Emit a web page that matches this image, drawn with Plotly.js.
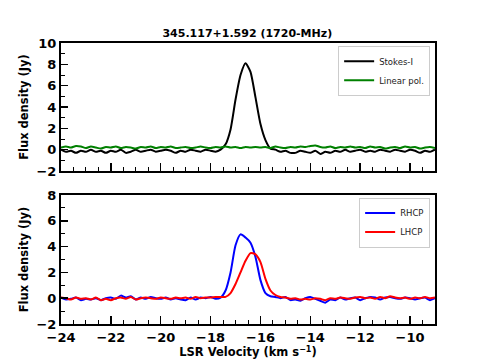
<!DOCTYPE html>
<html>
<head>
<meta charset="utf-8">
<script src="https://cdn.plot.ly/plotly-3.0.1.min.js"></script>
<style>
  html, body { margin: 0; padding: 0; background: #fff; }
  #chart { width: 484px; height: 363px; }
</style>
</head>
<body>
<div id="chart"></div>
<script>
// velocity channels (km/s)
const velocity = [
  -24.0, -23.8, -23.6, -23.4, -23.2, -23.0, -22.8, -22.6, -22.4, -22.2,
  -22.0, -21.8, -21.6, -21.4, -21.2, -21.0, -20.8, -20.6, -20.4, -20.2,
  -20.0, -19.8, -19.6, -19.4, -19.2, -19.0, -18.8, -18.6, -18.4, -18.2,
  -18.0, -17.8, -17.6, -17.4, -17.2, -17.0, -16.8, -16.6, -16.4, -16.2,
  -16.0, -15.8, -15.6, -15.4, -15.2, -15.0, -14.8, -14.6, -14.4, -14.2,
  -14.0, -13.8, -13.6, -13.4, -13.2, -13.0, -12.8, -12.6, -12.4, -12.2,
  -12.0, -11.8, -11.6, -11.4, -11.2, -11.0, -10.8, -10.6, -10.4, -10.2,
  -10.0, -9.8, -9.6, -9.4, -9.2, -9.0
];

const stokesI = [
  0.0, -0.2, -0.1, -0.3, -0.1, -0.2, 0.0, -0.2, -0.1, -0.3,
  -0.1, -0.2, 0.0, -0.3, -0.2, 0.0, -0.2, -0.1, 0.0, -0.2,
  -0.1, 0.0, -0.1, -0.3, -0.1, -0.2, 0.0, -0.1, -0.2, 0.0,
  -0.1, -0.2, 0.0, 0.5, 1.9, 4.7, 7.0, 8.1, 7.3, 4.9,
  2.4, 0.9, 0.1, 0.0, -0.2, -0.1, -0.3, -0.3, -0.1, -0.2,
  -0.3, -0.1, -0.4, -0.2, -0.3, -0.1, -0.2, 0.0, -0.2, -0.1,
  0.0, -0.2, -0.1, -0.2, 0.0, -0.1, -0.2, 0.0, -0.1, -0.2,
  0.0, -0.1, -0.3, -0.1, -0.2, 0.0
];

const linearPol = [
  0.2, 0.3, 0.2, 0.35, 0.3, 0.15, 0.3, 0.2, 0.1, 0.25,
  0.2, 0.3, 0.15, 0.25, 0.2, 0.1, 0.25, 0.2, 0.3, 0.15,
  0.25, 0.2, 0.3, 0.15, 0.2, 0.25, 0.15, 0.2, 0.3, 0.2,
  0.15, 0.25, 0.2, 0.3, 0.2, 0.25, 0.15, 0.25, 0.2, 0.25,
  0.2, 0.25, 0.15, 0.3, 0.2, 0.15, 0.25, 0.2, 0.3, 0.25,
  0.35, 0.4, 0.25, 0.2, 0.3, 0.15, 0.25, 0.2, 0.3, 0.2,
  0.25, 0.15, 0.3, 0.2, 0.25, 0.1, 0.2, 0.25, 0.15, 0.3,
  0.2, 0.25, 0.1, 0.2, 0.25, 0.15
];

const rhcp = [
  0.05, -0.1, -0.05, 0.05, -0.15, -0.05, -0.1, 0.0, -0.15, 0.0,
  0.05, -0.05, 0.2, 0.05, 0.15, -0.1, 0.05, -0.05, 0.1, 0.0,
  -0.05, 0.05, -0.1, 0.0, -0.1, -0.15, 0.05, -0.1, 0.05, 0.0,
  0.1, -0.05, 0.05, 0.6, 2.0, 4.1, 4.95, 4.7, 4.3, 3.2,
  1.4, 0.4, 0.15, 0.1, 0.0, 0.1, -0.15, -0.1, -0.2, 0.0,
  0.1, -0.05, -0.2, -0.35, -0.1, -0.15, 0.05, -0.1, 0.0, 0.05,
  -0.15, 0.0, 0.1, 0.05, -0.1, 0.05, 0.1, 0.0, -0.05, 0.05,
  0.0, -0.1, 0.0, 0.05, -0.15, 0.0
];

const lhcp = [
  0.05, 0.0, -0.1, 0.05, -0.05, 0.0, -0.1, 0.05, -0.15, -0.05,
  -0.15, 0.0, 0.05, -0.05, 0.1, -0.1, 0.0, 0.05, 0.0, -0.05,
  0.05, 0.0, -0.05, 0.05, 0.0, 0.05, -0.05, 0.1, 0.0, 0.05,
  0.05, 0.1, 0.1, 0.1, 0.4, 1.1, 2.0, 2.9, 3.5, 3.4,
  2.8, 1.5, 0.6, 0.25, 0.1, 0.05, -0.05, 0.0, -0.1, -0.05,
  -0.1, 0.0, -0.05, -0.15, 0.0, -0.05, 0.05, 0.0, -0.05, 0.05,
  0.1, 0.0, 0.05, -0.05, 0.1, 0.0, 0.15, 0.05, 0.0, 0.05,
  -0.05, 0.05, 0.0, 0.1, 0.0, 0.05
];

const chartTitle = '345.117+1.592 (1720-MHz)';

const tickFont = {family: 'DejaVu Sans', size: 13, color: '#000', weight: 'bold'};
const labelFont = {family: 'DejaVu Sans', size: 11.5, color: '#000', weight: 'bold'};
const legendFont = {family: 'DejaVu Sans', size: 8.5, color: '#222'};

function line(color) {
  return {color: color, width: 2, shape: 'spline', smoothing: 0.6};
}

const data = [
  {x: velocity, y: stokesI, xaxis: 'x2', yaxis: 'y2', type: 'scatter', mode: 'lines',
   name: 'Stokes-I', line: line('#000000'), legend: 'legend'},
  {x: velocity, y: linearPol, xaxis: 'x2', yaxis: 'y2', type: 'scatter', mode: 'lines',
   name: 'Linear pol.', line: line('#008000'), legend: 'legend'},
  {x: velocity, y: rhcp, xaxis: 'x', yaxis: 'y', type: 'scatter', mode: 'lines',
   name: 'RHCP', line: line('#0000ff'), legend: 'legend2'},
  {x: velocity, y: lhcp, xaxis: 'x', yaxis: 'y', type: 'scatter', mode: 'lines',
   name: 'LHCP', line: line('#ff0000'), legend: 'legend2'}
];

const xCommon = {
  range: [-24, -9], tick0: -24, dtick: 2,
  ticks: 'inside', ticklen: 8, tickwidth: 1.5, tickcolor: '#000',
  minor: {dtick: 0.5, ticks: 'inside', ticklen: 4, tickwidth: 1, tickcolor: '#000'},
  showline: true, linecolor: '#000', linewidth: 2, mirror: true,
  showgrid: false, zeroline: false, tickfont: tickFont
};

function yAxis(domain, range) {
  return {
    domain: domain, range: range, dtick: 2,
    ticks: 'inside', ticklen: 7, tickwidth: 1.5, tickcolor: '#000',
    minor: {dtick: 1, ticks: 'inside', ticklen: 4, tickwidth: 1, tickcolor: '#000'},
    showline: true, linecolor: '#000', linewidth: 2, mirror: true,
    showgrid: false, zeroline: false, tickfont: tickFont,
    title: {text: 'Flux density (Jy)', font: labelFont, standoff: 5}
  };
}

const legendBox = {
  bgcolor: 'rgba(255,255,255,0.9)', bordercolor: '#cccccc', borderwidth: 1,
  font: legendFont, xanchor: 'right', yanchor: 'top', tracegroupgap: 0,
  itemwidth: 30
};

const layout = {
  width: 484, height: 363,
  margin: {l: 61, r: 49, t: 43, b: 39},
  paper_bgcolor: '#fff', plot_bgcolor: '#fff',
  title: {text: chartTitle, font: {family: 'DejaVu Sans', size: 11, color: '#000', weight: 'bold'},
          x: 0.511, xanchor: 'center', y: 0.91, yanchor: 'middle'},
  xaxis: Object.assign({}, xCommon, {anchor: 'y',
    title: {text: 'LSR Velocity (km s<sup>\u22121</sup>)', font: labelFont, standoff: 4}}),
  xaxis2: Object.assign({}, xCommon, {anchor: 'y2', matches: 'x', showticklabels: false}),
  yaxis: yAxis([0, 0.459], [-2, 8]),
  yaxis2: yAxis([0.5445, 1], [-2, 10]),
  legend: Object.assign({}, legendBox, {x: 0.987, y: 0.99}),
  legend2: Object.assign({}, legendBox, {x: 0.987, y: 0.45}),
  showlegend: true
};

Plotly.newPlot('chart', data, layout, {staticPlot: true, displayModeBar: false});
</script>
</body>
</html>
